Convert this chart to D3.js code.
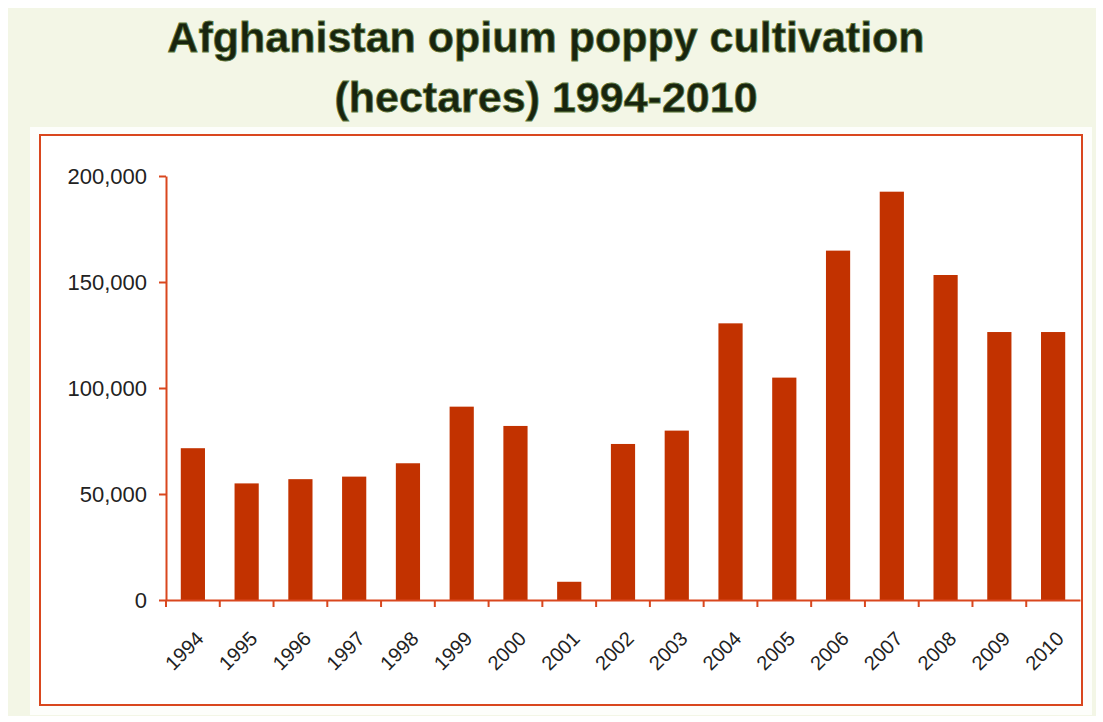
<!DOCTYPE html>
<html>
<head>
<meta charset="utf-8">
<script src="https://cdn.jsdelivr.net/npm/d3@7"></script>
<style>
  body { margin: 0; background: #ffffff; }
  svg { display: block; }
</style>
</head>
<body>
<svg width="1103" height="722"></svg>
<script>
var years = ['1994','1995','1996','1997','1998','1999','2000','2001','2002',
             '2003','2004','2005','2006','2007','2008','2009','2010'];
var hectares = [71600, 55000, 57000, 58200, 64500, 91200, 82100, 8600, 73600,
                79900, 130500, 104900, 164800, 192600, 153300, 126400, 126400];
var yTicks = [0, 50000, 100000, 150000, 200000];
var titleLines = ['Afghanistan opium poppy cultivation', '(hectares) 1994-2010'];

var red = '#d9471e';
var barColor = '#c23200';

var svg = d3.select('svg');

// page backgrounds
svg.append('rect').attr('x', 8).attr('y', 8).attr('width', 1088).attr('height', 708).attr('fill', '#f3f6e6');
svg.append('rect').attr('x', 30).attr('y', 127).attr('width', 1062).attr('height', 588).attr('fill', '#fdfefb');
svg.append('rect').attr('x', 40).attr('y', 135).attr('width', 1042).attr('height', 570)
  .attr('fill', '#ffffff').attr('stroke', red).attr('stroke-width', 2);

// title
svg.selectAll('text.title')
  .data(titleLines)
  .enter()
  .append('text')
  .attr('class', 'title')
  .attr('x', 546)
  .attr('y', function(d, i){ return 52 + i * 60; })
  .attr('text-anchor', 'middle')
  .style('font-family', 'Liberation Sans, Arial, sans-serif')
  .style('font-weight', 'bold')
  .style('font-size', '43px')
  .attr('fill', '#18240f')
  .attr('stroke', '#5f7a3c')
  .attr('stroke-width', 0.8)
  .text(function(d){ return d; });

var plotLeft = 166, plotRight = 1080, plotTop = 176, plotBottom = 600;

var x = d3.scaleBand().domain(years).range([plotLeft, plotRight]).paddingInner(0.55).paddingOuter(0.275);
var xb = d3.scaleBand().domain(years).range([plotLeft, plotRight]);
var y = d3.scaleLinear().domain([0, 200000]).range([plotBottom, plotTop]);

var data = years.map(function(d, i){ return { year: d, value: hectares[i] }; });

svg.selectAll('rect.bar')
  .data(data)
  .enter()
  .append('rect')
  .attr('class', 'bar')
  .attr('x', function(d){ return x(d.year); })
  .attr('width', x.bandwidth())
  .attr('y', function(d){ return y(d.value); })
  .attr('height', function(d){ return plotBottom - y(d.value); })
  .attr('fill', barColor);

// y axis
var yAxis = svg.append('g')
  .attr('transform', 'translate(' + plotLeft + ',0)')
  .call(d3.axisLeft(y).tickValues(yTicks).tickSize(7).tickPadding(12)
    .tickFormat(d3.format(',')).tickSizeOuter(0));
yAxis.select('.domain').attr('stroke', red).attr('stroke-width', 2);
yAxis.selectAll('.tick line').attr('stroke', red).attr('stroke-width', 2);
yAxis.selectAll('.tick text')
  .attr('fill', '#222')
  .style('font-family', 'Liberation Sans, Arial, sans-serif')
  .style('font-size', '22px')
  .attr('dy', '0.36em');

// x axis
var xAxis = svg.append('g')
  .attr('transform', 'translate(0,' + plotBottom + ')')
  .call(d3.axisBottom(xb).tickSize(0).tickSizeOuter(0));
xAxis.select('.domain').attr('stroke', red).attr('stroke-width', 2);
xAxis.selectAll('.tick text')
  .attr('fill', '#222')
  .style('font-family', 'Liberation Sans, Arial, sans-serif')
  .style('font-size', '20px')
  .attr('text-anchor', 'end')
  .attr('dy', null)
  .attr('y', 0)
  .attr('transform', 'translate(12,40) rotate(-45)');

// category boundary ticks
svg.append('g').selectAll('line')
  .data(years)
  .enter()
  .append('line')
  .attr('x1', function(d){ return xb(d); })
  .attr('x2', function(d){ return xb(d); })
  .attr('y1', plotBottom)
  .attr('y2', plotBottom + 7)
  .attr('stroke', red)
  .attr('stroke-width', 2);
</script>
</body>
</html>
